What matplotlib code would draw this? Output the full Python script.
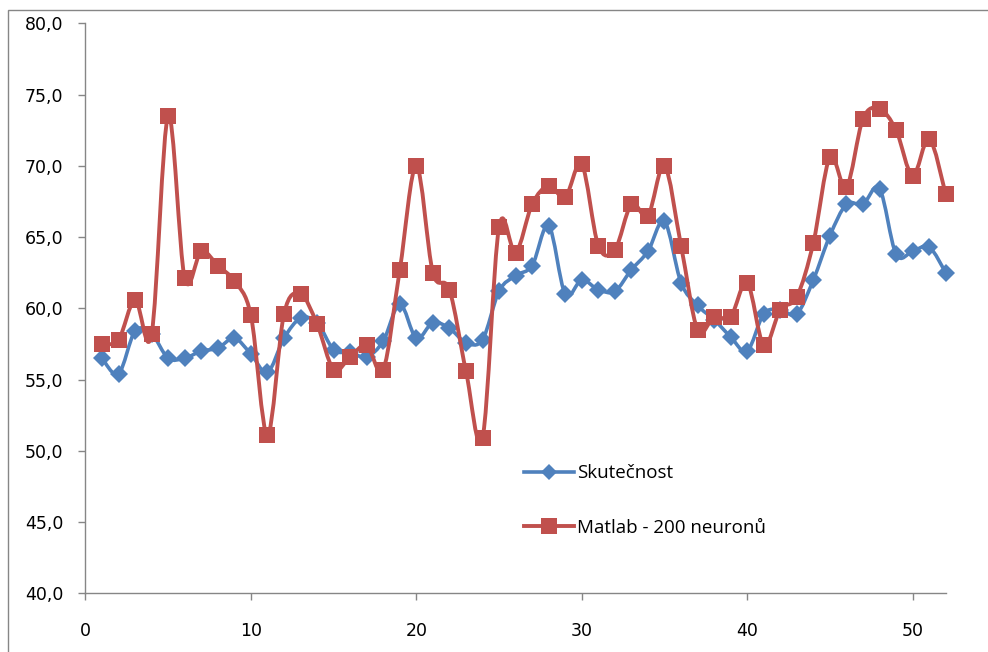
import matplotlib.pyplot as plt
import numpy as np
from matplotlib.path import Path
from matplotlib.patches import PathPatch, Rectangle
from matplotlib.lines import Line2D
from matplotlib.ticker import FuncFormatter

# weekly values, 52 weeks
tyden = list(range(1, 53))
skutecnost = [56.5, 55.4, 58.4, 58.2, 56.5, 56.5, 57.0, 57.2, 57.9, 56.8,
              55.5, 57.9, 59.3, 59.0, 57.1, 56.9, 56.6, 57.7, 60.3, 57.9,
              59.0, 58.6, 57.6, 57.8, 61.2, 62.3, 63.0, 65.8, 61.0, 62.0,
              61.3, 61.2, 62.7, 64.0, 66.1, 61.8, 60.2, 59.2, 58.0, 57.0,
              59.6, 59.9, 59.6, 62.0, 65.1, 67.3, 67.3, 68.4, 63.8, 64.0,
              64.3, 62.5]
matlab200 = [57.5, 57.8, 60.6, 58.2, 73.5, 62.1, 64.0, 63.0, 61.9, 59.5,
             51.1, 59.6, 61.0, 58.9, 55.7, 56.6, 57.4, 55.7, 62.7, 70.0,
             62.5, 61.3, 55.6, 50.9, 65.7, 63.9, 67.3, 68.6, 67.8, 70.1,
             64.4, 64.1, 67.3, 66.5, 70.0, 64.4, 58.5, 59.4, 59.4, 61.8,
             57.4, 59.9, 60.8, 64.6, 70.6, 68.5, 73.3, 74.0, 72.5, 69.3,
             71.9, 68.0]

MODRA = '#4F81BD'
CERVENA = '#C0504D'


def hladka_cesta(x, y):
    # Excel-like smoothed line: cubic Bezier segments through the points
    p = np.column_stack([x, y]).astype(float)
    n = len(p)
    verts = [p[0]]
    codes = [Path.MOVETO]
    for i in range(n - 1):
        p0 = p[i - 1] if i > 0 else p[i]
        p3 = p[i + 2] if i + 2 < n else p[i + 1]
        c1 = p[i] + (p[i + 1] - p0) / 6.0
        c2 = p[i + 1] - (p3 - p[i]) / 6.0
        verts += [c1, c2, p[i + 1]]
        codes += [Path.CURVE4] * 3
    return Path(verts, codes)


fig = plt.figure(figsize=(9.88, 6.52), dpi=100)
ax = fig.add_axes([0.0865, 0.090, 0.8707, 0.8743])

ax.add_patch(PathPatch(hladka_cesta(tyden, skutecnost), facecolor='none',
                       edgecolor=MODRA, lw=2.6, capstyle='round',
                       joinstyle='round', zorder=2, clip_on=False))
ax.plot(tyden, skutecnost, linestyle='none', marker='D', ms=9,
        color=MODRA, mew=0, zorder=3, clip_on=False)
ax.add_patch(PathPatch(hladka_cesta(tyden, matlab200), facecolor='none',
                       edgecolor=CERVENA, lw=2.8, capstyle='round',
                       joinstyle='round', zorder=4, clip_on=False))
ax.plot(tyden, matlab200, linestyle='none', marker='s', ms=12,
        color=CERVENA, mew=0, zorder=5, clip_on=False)

ax.set_xlim(0, 52)
ax.set_ylim(40, 80)
ax.set_xticks(range(0, 51, 10))
ax.set_yticks(range(40, 81, 5))
ax.yaxis.set_major_formatter(FuncFormatter(lambda v, pos: f'{v:.1f}'.replace('.', ',')))

for s in ['top', 'right']:
    ax.spines[s].set_visible(False)
for s in ['left', 'bottom']:
    ax.spines[s].set_color('#868686')
    ax.spines[s].set_linewidth(1.0)
ax.tick_params(axis='both', colors='#868686', length=5, width=1.0,
               labelcolor='black', labelsize=12.5)
ax.tick_params(axis='y', pad=11)
ax.tick_params(axis='x', pad=16)

handles = [Line2D([], [], color=MODRA, lw=2.6, marker='D', ms=8, mew=0),
           Line2D([], [], color=CERVENA, lw=2.8, marker='s', ms=12, mew=0)]
ax.legend(handles, ['Skutečnost', 'Matlab - 200 neuronů'], loc='upper left',
          bbox_to_anchor=(0.499, 0.243), frameon=False, borderpad=0,
          handlelength=2.65, handletextpad=0.15, labelspacing=1.95,
          prop={'family': 'Open Sans', 'size': 13.5})

# outer frame of the chart area
fig.patches.append(Rectangle((7.5 / 988, -0.1), 1.2, 1.1 - 9.5 / 652,
                             transform=fig.transFigure, fill=False,
                             edgecolor='#868686', lw=1.0, figure=fig))

fig.savefig('out.png', dpi=100)
